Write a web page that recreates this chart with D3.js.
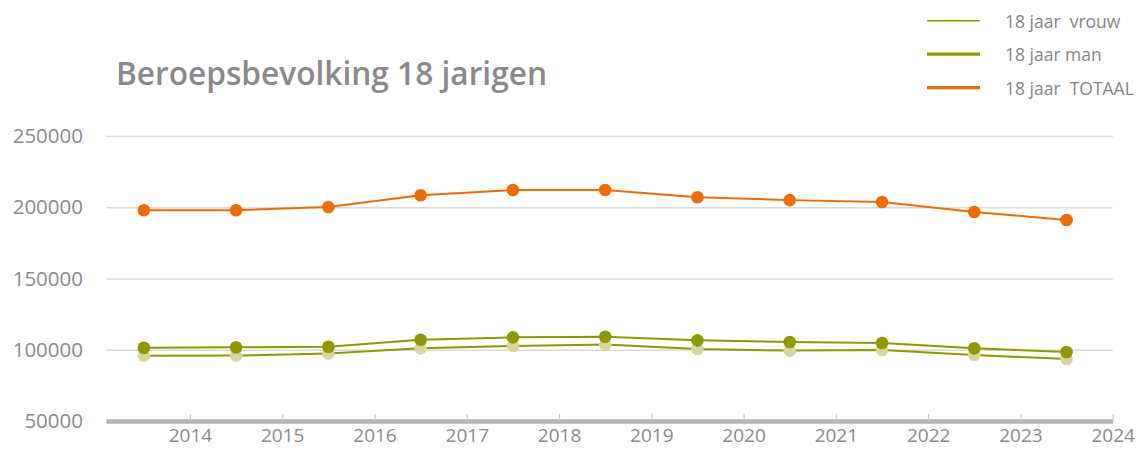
<!DOCTYPE html>
<html>
<head>
<meta charset="utf-8">
<script src="https://cdn.jsdelivr.net/npm/d3@7"></script>
<style>
  body { margin: 0; background: #fff; }
  svg text { font-family: "Open Sans", "DejaVu Sans", sans-serif; fill: #838383; }
</style>
</head>
<body>
<div id="chart"></div>
<script>
// data
const years = [2013, 2014, 2015, 2016, 2017, 2018, 2019, 2020, 2021, 2022, 2023];
const totaal = [197900, 197900, 200200, 208400, 212100, 212100, 207000, 205000, 203700, 196700, 191100];
const man = [101400, 101700, 102100, 107000, 108700, 109100, 106600, 105400, 104700, 101000, 98400];
const vrouw = [95800, 95900, 97300, 101000, 102600, 103600, 100500, 99400, 99800, 96300, 93500];
const yTicks = [50000, 100000, 150000, 200000, 250000];
const xTicks = [2014, 2015, 2016, 2017, 2018, 2019, 2020, 2021, 2022, 2023, 2024];
const seriesNames = ["18 jaar  vrouw", "18 jaar man", "18 jaar  TOTAAL"];

const width = 1137, height = 450;
const colOrange = "#ee6c06";
const colOlive = "#8e9900";
const colVrouwDot = "#d5d79d";

const svg = d3.select("#chart").append("svg")
    .attr("width", width)
    .attr("height", height);

// scales
const x = d3.scaleLinear().domain([2013.09, 2024]).range([106, 1112.7]);
const y = d3.scaleLinear().domain([50000, 250000]).range([421, 136]);

// title
svg.append("text")
    .attr("x", 116)
    .attr("y", 85)
    .attr("textLength", 431)
    .attr("lengthAdjust", "spacingAndGlyphs")
    .style("font-size", "32px")
    .style("font-weight", 600)
    .style("fill", "#898989")
    .text("Beroepsbevolking 18 jarigen");

// gridlines
const grid = svg.append("g")
    .attr("transform", `translate(${x.range()[0]},0)`)
    .call(d3.axisLeft(y).tickValues(yTicks.slice(1)).tickSize(-(x.range()[1] - x.range()[0])).tickFormat(""));
grid.select(".domain").remove();
grid.selectAll("line").attr("stroke", "#d9d9d9").attr("stroke-width", 1.5);

// y labels
const yAxis = svg.append("g")
    .attr("transform", "translate(83,0)")
    .call(d3.axisLeft(y).tickValues(yTicks).tickSize(0).tickPadding(0).tickFormat(d3.format("d")));
yAxis.select(".domain").remove();
yAxis.selectAll("text")
    .style("font-size", "20.5px")
    .style("font-weight", 400)
    .style("fill", "#8a8a8a")
    .attr("font-family", null);

// x axis (labels kept inside the frame)
const xAxis = svg.append("g")
    .attr("transform", `translate(0,${y(50000)})`)
    .call(d3.axisBottom(x).tickValues(xTicks).tickSizeInner(-7).tickSizeOuter(0).tickPadding(8).tickFormat(d3.format("d")));
xAxis.select(".domain").attr("stroke", "#b3b3b3").attr("stroke-width", 4.5);
xAxis.selectAll(".tick line").attr("stroke", "#c8c8c8").attr("stroke-width", 1.2);
xAxis.selectAll("text")
    .style("font-size", "19px")
    .style("font-weight", 400)
    .style("fill", "#8a8a8a")
    .attr("font-family", null);

// series
const line = d3.line()
    .x((d, i) => x(years[i] + 0.5))
    .y(d => y(d));

function drawSeries(values, lineColor, dotColor) {
    svg.append("path")
        .datum(values)
        .attr("fill", "none")
        .attr("stroke", lineColor)
        .attr("stroke-width", 2)
        .attr("d", line);
    svg.append("g").selectAll("circle")
        .data(values)
        .join("circle")
        .attr("cx", (d, i) => x(years[i] + 0.5))
        .attr("cy", d => y(d))
        .attr("r", 6.3)
        .attr("fill", dotColor);
}

drawSeries(totaal, colOrange, colOrange);
drawSeries(vrouw, colOlive, colVrouwDot);
drawSeries(man, colOlive, colOlive);

// legend
const legendItems = [
    {name: seriesNames[0], color: colOlive, w: 1.6},
    {name: seriesNames[1], color: colOlive, w: 3.2},
    {name: seriesNames[2], color: colOrange, w: 3.2}
];
const legend = svg.append("g");
legendItems.forEach((d, i) => {
    const ly = 20.7 + i * 33.5;
    legend.append("line")
        .attr("x1", 927).attr("x2", 980)
        .attr("y1", ly).attr("y2", ly)
        .attr("stroke", d.color)
        .attr("stroke-width", d.w);
    legend.append("text")
        .attr("x", 1005)
        .attr("y", ly + 7)
        .style("font-size", "17.5px")
        .style("white-space", "pre")
        .style("fill", "#858585")
        .text(d.name);
});
</script>
</body>
</html>
